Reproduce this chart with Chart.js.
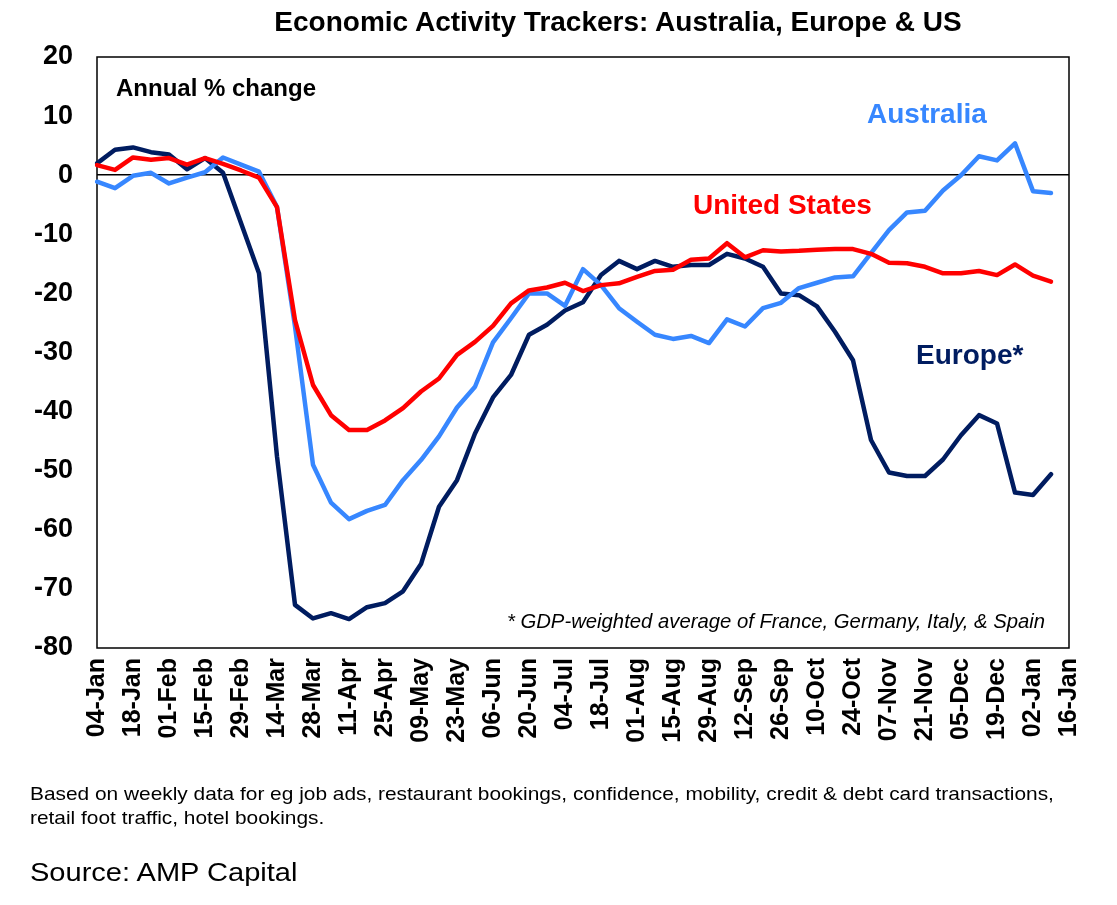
<!DOCTYPE html>
<html>
<head>
<meta charset="utf-8">
<script src="https://cdn.jsdelivr.net/npm/chart.js@4/dist/chart.umd.min.js"></script>
<style>
  html, body { margin: 0; padding: 0; background: #fff; }
  #wrap { position: relative; width: 1117px; height: 905px; overflow: hidden; font-family: "Liberation Sans", Arial, sans-serif; }
  canvas { position: absolute; left: 0; top: 0; }
  .t { position: absolute; white-space: nowrap; line-height: 1; }
</style>
</head>
<body>
<div id="wrap">
  <canvas id="c" width="1117" height="905"></canvas>
  <div class="t" style="left:0;width:1236px;text-align:center;top:8px;font-size:28px;font-weight:bold;color:#000;">Economic Activity Trackers: Australia, Europe &amp; US</div>
  <div class="t" style="left:116px;top:76px;font-size:24px;font-weight:bold;color:#000;">Annual % change</div>
  <div class="t" style="left:867px;top:100px;font-size:28px;font-weight:bold;color:#3787FF;">Australia</div>
  <div class="t" style="left:693px;top:191px;font-size:28px;font-weight:bold;color:#FF0000;">United States</div>
  <div class="t" style="left:916px;top:341px;font-size:28px;font-weight:bold;color:#001C60;">Europe*</div>
  <div class="t" style="right:72px;top:611px;font-size:20.3px;font-style:italic;color:#000;">* GDP-weighted average of France, Germany, Italy, &amp; Spain</div>
  <div class="t" style="left:30px;top:782px;font-size:18.5px;color:#000;line-height:24px;transform:scaleX(1.128);transform-origin:0 0;">Based on weekly data for eg job ads, restaurant bookings, confidence, mobility, credit &amp; debt card transactions,<br>retail foot traffic, hotel bookings.</div>
  <div class="t" style="left:30px;top:859px;font-size:26px;color:#000;transform:scaleX(1.117);transform-origin:0 0;">Source: AMP Capital</div>
</div>
<script>
const weeks = ["04-Jan","11-Jan","18-Jan","25-Jan","01-Feb","08-Feb","15-Feb","22-Feb","29-Feb","07-Mar",
  "14-Mar","21-Mar","28-Mar","04-Apr","11-Apr","18-Apr","25-Apr","02-May","09-May","16-May",
  "23-May","30-May","06-Jun","13-Jun","20-Jun","27-Jun","04-Jul","11-Jul","18-Jul","25-Jul",
  "01-Aug","08-Aug","15-Aug","22-Aug","29-Aug","05-Sep","12-Sep","19-Sep","26-Sep","03-Oct",
  "10-Oct","17-Oct","24-Oct","31-Oct","07-Nov","14-Nov","21-Nov","28-Nov","05-Dec","12-Dec",
  "19-Dec","26-Dec","02-Jan","09-Jan","16-Jan"];

const australia = [-1.1,-2.2,-0.1,0.4,-1.4,-0.4,0.5,3.0,1.8,0.6,
  -5.4,-25.6,-49.0,-55.4,-58.2,-56.8,-55.8,-51.6,-48.2,-44.2,
  -39.3,-35.8,-28.3,-24.2,-20.0,-20.0,-22.1,-15.9,-18.6,-22.5,
  -24.8,-27.0,-27.7,-27.2,-28.4,-24.4,-25.6,-22.5,-21.6,-19.1,
  -18.2,-17.3,-17.1,-13.2,-9.3,-6.3,-6.0,-2.6,0.0,3.2,
  2.5,5.4,-2.7,-3.0];

const unitedStates = [1.7,0.9,3.0,2.6,2.9,1.8,2.9,1.9,0.8,-0.4,
  -5.4,-24.5,-35.5,-40.6,-43.1,-43.1,-41.5,-39.4,-36.6,-34.4,
  -30.4,-28.2,-25.5,-21.7,-19.5,-19.0,-18.2,-19.6,-18.6,-18.3,
  -17.2,-16.2,-16.0,-14.3,-14.1,-11.5,-13.9,-12.7,-12.9,-12.8,
  -12.6,-12.5,-12.5,-13.3,-14.8,-14.9,-15.5,-16.6,-16.6,-16.2,
  -16.9,-15.1,-17.0,-18.0];

const europe = [2.0,4.3,4.7,3.9,3.5,1.0,2.9,0.4,-8.1,-16.6,
  -47.6,-72.7,-75.0,-74.1,-75.1,-73.1,-72.4,-70.4,-65.8,-56.1,
  -51.6,-43.7,-37.6,-33.8,-27.0,-25.3,-22.9,-21.5,-16.9,-14.5,
  -15.9,-14.5,-15.5,-15.2,-15.2,-13.3,-14.1,-15.5,-20.0,-20.3,
  -22.2,-26.5,-31.3,-44.8,-50.3,-50.9,-50.9,-48.1,-44.0,-40.6,
  -42.0,-53.7,-54.1,-50.6];

const yMin = -80, yMax = 20, yStep = 10;

const frame = {
  id: 'frame',
  beforeDatasetsDraw(chart) {
    const a = chart.chartArea, ctx = chart.ctx;
    ctx.save();
    ctx.strokeStyle = '#000';
    ctx.lineWidth = 1.5;
    ctx.strokeRect(a.left, a.top, a.right - a.left, a.bottom - a.top);
    ctx.restore();
  }
};

const FONT = '"Liberation Sans", Arial, sans-serif';

new Chart(document.getElementById('c'), {
  type: 'line',
  data: {
    labels: weeks,
    datasets: [
      { label: 'United States', data: unitedStates, borderColor: '#FF0000', borderWidth: 4.5 },
      { label: 'Australia', data: australia, borderColor: '#3787FF', borderWidth: 4.5 },
      { label: 'Europe*', data: europe, borderColor: '#001C60', borderWidth: 4.5 }
    ]
  },
  options: {
    responsive: false,
    animation: false,
    devicePixelRatio: 1,
    elements: { point: { radius: 0 }, line: { tension: 0, borderJoinStyle: 'round', borderCapStyle: 'round' } },
    layout: { padding: { left: 0, top: 57, right: 48, bottom: 157 } },
    plugins: { legend: { display: false }, tooltip: { enabled: false }, title: { display: false } },
    scales: {
      x: {
        type: 'category',
        offset: false,
        afterFit(s) { s.height = 100; },
        grid: { display: false, drawTicks: false },
        border: { display: false },
        ticks: {
          autoSkip: false,
          maxRotation: 90, minRotation: 90,
          padding: 10,
          color: '#000',
          font: { family: FONT, size: 25, weight: 'bold' },
          callback(v, i) { return i % 2 === 0 ? weeks[i] : null; }
        }
      },
      y: {
        min: yMin, max: yMax,
        afterFit(s) { s.width = 97; },
        grid: {
          drawTicks: false,
          color: (c) => c.tick && c.tick.value === 0 ? '#000' : 'rgba(0,0,0,0)',
          lineWidth: 1.5
        },
        border: { display: false },
        ticks: {
          stepSize: yStep,
          padding: 24,
          color: '#000',
          font: { family: FONT, size: 27, weight: 'bold' }
        }
      }
    }
  },
  plugins: [frame]
});
</script>
</body>
</html>
